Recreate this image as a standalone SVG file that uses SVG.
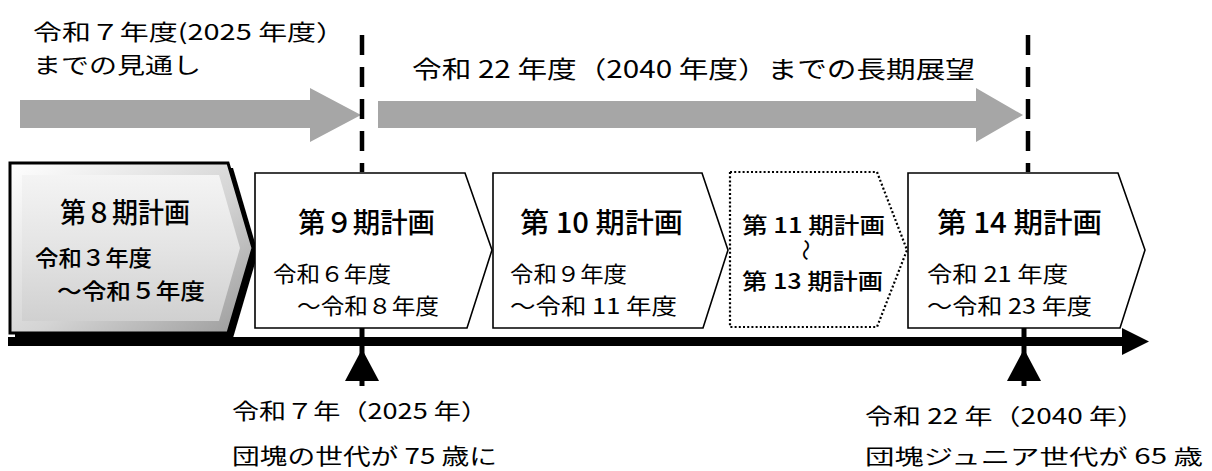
<svg xmlns="http://www.w3.org/2000/svg" width="1212" height="471" viewBox="0 0 1212 471">
<style>
text{font-family:"Noto Sans CJK JP","Noto Sans",sans-serif;fill:#000}
.t{font-size:24px}
.tl{font-size:22px}
.h{font-size:28px;font-weight:500}
.s{font-size:22px}
.b{font-size:22px;font-weight:500}
.box{fill:#fff;stroke:#000;stroke-width:1.6}
.dot{fill:#fff;stroke:#000;stroke-width:2.2;stroke-dasharray:2 2.2}
.span{fill:#a6a6a6}
.dash{stroke:#000;stroke-width:4.5;stroke-dasharray:20 12;fill:none}
.stem{stroke:#000;stroke-width:5}
</style>
<defs>
<linearGradient id="bevel" x1="0" y1="0" x2="1" y2="1">
<stop offset="0" stop-color="#ffffff"/>
<stop offset="0.55" stop-color="#d4d4d4"/>
<stop offset="1" stop-color="#9a9a9a"/>
</linearGradient>
<linearGradient id="face" x1="0" y1="0" x2="0" y2="1">
<stop offset="0" stop-color="#f4f4f4"/>
<stop offset="0.5" stop-color="#e4e4e4"/>
<stop offset="1" stop-color="#d0d0d0"/>
</linearGradient>
</defs>

<g id="headings">
<text class="tl" x="33" y="40" textLength="312" lengthAdjust="spacingAndGlyphs">令和７年度(2025 年度）</text>
<text class="tl" x="33" y="73" textLength="168" lengthAdjust="spacingAndGlyphs">までの見通し</text>
<text class="t" x="412" y="78" textLength="563" lengthAdjust="spacingAndGlyphs">令和 22 年度（2040 年度）までの長期展望</text>
</g>

<g id="connectors">
<polygon class="span" points="20,100 310,100 310,88 361,115 310,142 310,128 20,128"/>
<polygon class="span" points="378,101 976,101 976,88 1023,115 976,142 976,128 378,128"/>
<line class="dash" x1="362" y1="35" x2="362" y2="172"/>
<line class="dash" x1="1028" y1="35" x2="1028" y2="172"/>
<rect x="8" y="337" width="1118" height="9" fill="#000"/>
<polygon points="1122,328 1149,341.5 1122,355" fill="#000"/>
<line class="stem" x1="362" y1="328" x2="362" y2="386"/>
<polygon points="362,349 345,381 379,381" fill="#000"/>
<line class="stem" x1="1024" y1="328" x2="1024" y2="386"/>
<polygon points="1024,349 1007,381 1041,381" fill="#000"/>
</g>

<g id="plan8">
<polygon points="15,168 233,168 258,253 233,338 15,338" fill="#000"/>
<polygon points="10,163 228,163 253,248 228,333 10,333" fill="url(#bevel)" stroke="#000" stroke-width="3"/>
<polygon points="22,175 219,175 240,248 219,321 22,321" fill="url(#face)"/>
<text class="h" x="60" y="223" textLength="130" lengthAdjust="spacingAndGlyphs">第８期計画</text>
<text class="b" x="35" y="266" textLength="117" lengthAdjust="spacingAndGlyphs">令和３年度</text>
<text class="b" x="57" y="299" textLength="148" lengthAdjust="spacingAndGlyphs">～令和５年度</text>
</g>

<g id="plan9">
<polygon class="box" points="255,173 465,173 492,250 467,328 255,328"/>
<text class="h" x="298" y="233" textLength="137" lengthAdjust="spacingAndGlyphs">第９期計画</text>
<text class="s" x="273" y="282" textLength="118" lengthAdjust="spacingAndGlyphs">令和６年度</text>
<text class="s" x="297" y="314" textLength="142" lengthAdjust="spacingAndGlyphs">～令和８年度</text>
</g>

<g id="plan10">
<polygon class="box" points="493,173 702,173 728,250 703,328 493,328"/>
<text class="h" x="520" y="233" textLength="163" lengthAdjust="spacingAndGlyphs">第 10 期計画</text>
<text class="s" x="510" y="282" textLength="117" lengthAdjust="spacingAndGlyphs">令和９年度</text>
<text class="s" x="510" y="314" textLength="167" lengthAdjust="spacingAndGlyphs">～令和 11 年度</text>
</g>

<g id="plan11to13">
<polygon class="dot" points="730,172 877,172 907,250 877,327 730,327"/>
<text class="b" x="742" y="233" textLength="143" lengthAdjust="spacingAndGlyphs">第 11 期計画</text>
<text x="0" y="0" font-size="22" transform="translate(806,250) rotate(90)" text-anchor="middle" dy="0.35em">～</text>
<text class="b" x="742" y="289" textLength="141" lengthAdjust="spacingAndGlyphs">第 13 期計画</text>
</g>

<g id="plan14">
<polygon class="box" points="908,173 1118,173 1145,250 1120,328 908,328"/>
<text class="h" x="937" y="233" textLength="165" lengthAdjust="spacingAndGlyphs">第 14 期計画</text>
<text class="s" x="927" y="282" textLength="141" lengthAdjust="spacingAndGlyphs">令和 21 年度</text>
<text class="s" x="927" y="314" textLength="165" lengthAdjust="spacingAndGlyphs">～令和 23 年度</text>
</g>

<g id="milestone2025">
<text class="s" x="232" y="419" textLength="256" lengthAdjust="spacingAndGlyphs">令和７年（2025 年）</text>
<text class="s" x="232" y="464" textLength="265" lengthAdjust="spacingAndGlyphs">団塊の世代が 75 歳に</text>
</g>

<g id="milestone2040">
<text class="s" x="865" y="424" textLength="280" lengthAdjust="spacingAndGlyphs">令和 22 年（2040 年）</text>
<text class="s" x="865" y="464" style="font-size:21px" textLength="338" lengthAdjust="spacingAndGlyphs">団塊ジュニア世代が 65 歳</text>
</g>
</svg>
